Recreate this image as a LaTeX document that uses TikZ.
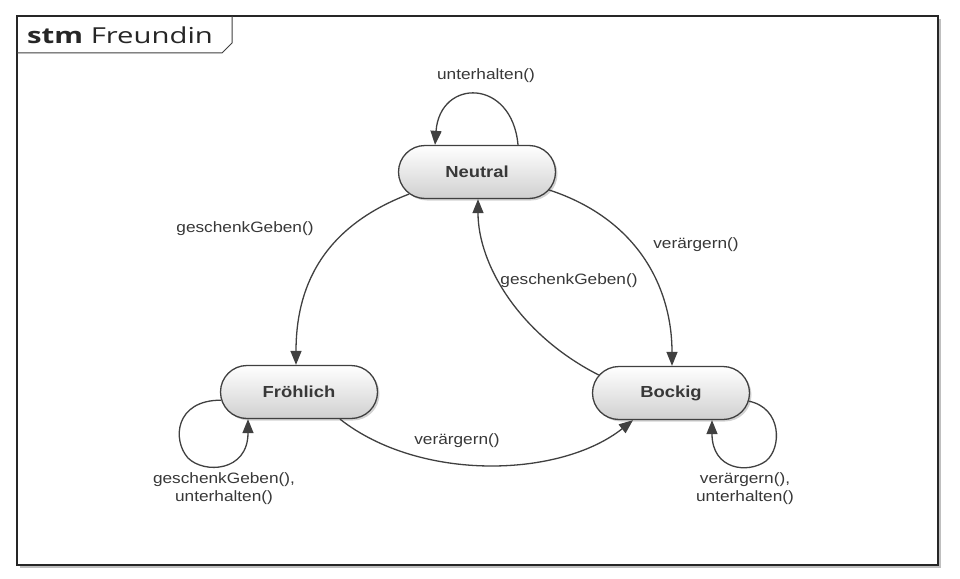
\documentclass[tikz,border=0pt]{standalone}
\usepackage{fontspec}
\setmainfont{Liberation Sans}
\newfontfamily\lblfont[FakeStretch=1.15]{Liberation Sans}
\newfontfamily\titlefont[FakeStretch=1.33]{Open Sans}
\usetikzlibrary{shapes.misc,shadows,arrows.meta,calc}
\definecolor{inkgray}{HTML}{404040}
\definecolor{txtgray}{HTML}{383838}
\definecolor{statefill}{HTML}{D0D0D0}
\tikzset{
  state/.style={rounded rectangle, draw=inkgray, line width=1.3pt,
    minimum width=157pt, minimum height=53pt, inner sep=0pt,
    top color=white, bottom color=statefill,
    drop shadow={shadow xshift=2pt, shadow yshift=-2pt, opacity=0.35},
    text=txtgray, font=\lblfont\bfseries\fontsize{16}{19}\selectfont},
  trans/.style={draw=inkgray, line width=1.3pt,
    -{Triangle[length=14pt,width=11pt]}},
  lbl/.style={text=txtgray, font=\lblfont\fontsize{15}{18}\selectfont,
    align=center, inner sep=0pt}
}
\begin{document}
\begin{tikzpicture}[x=1pt,y=-1pt]
\useasboundingbox (0,0) rectangle (960,578);
\fill[white] (0,0) rectangle (960,578);

% diagram frame with its name tab
\fill[black!25] (20,19) rectangle (941,568);
\draw[black!85, line width=2pt, fill=white] (17,16) rectangle (938,565);
\draw[black!75, line width=1pt] (17,53) -- (222,53) -- (232,43) -- (232,16);
\node[anchor=west, inner sep=0pt, text=black!85,
  font=\titlefont\fontsize{22}{26}\selectfont] (title) at (27,35)
  {\textbf{stm} Freundin};

% states
\node[state] (neutral) at (477,172) {Neutral};
\node[state] (froh) at (299,392) {Fröhlich};
\node[state] (bockig) at (671,393) {Bockig};

% transitions
\draw[trans] ([xshift=41pt]neutral.north) .. controls (512,78) and (440,78) .. ([xshift=-42pt]neutral.north);
\draw[trans] (neutral.198) .. controls (320,228) and (296,290) .. ([xshift=-3pt]froh.north);
\draw[trans] (neutral.-14) .. controls (640,220) and (672,290) .. ([xshift=1pt]bockig.north);
\draw[trans] (bockig.166) .. controls (520,335) and (478,265) .. ([xshift=1pt]neutral.south);
\draw[trans] ([xshift=41pt]froh.south) .. controls (420,482) and (560,478) .. ([xshift=-38pt]bockig.south);
\draw[trans] (froh.186) .. controls (175,400) and (172,440) .. (188,458)
  .. controls (204,474) and (248,472) .. ([xshift=-51pt]froh.south);
\draw[trans] (bockig.-6) .. controls (782,408) and (782,448) .. (766,461)
  .. controls (748,474) and (712,470) .. ([xshift=41pt]bockig.south);

% transition labels
\node[lbl] (l1) at (486,76) {unterhalten()};
\node[lbl] (l2) at (245,229) {geschenkGeben()};
\node[lbl] (l3) at (696,245) {verärgern()};
\node[lbl] (l4) at (569,281) {geschenkGeben()};
\node[lbl] (l5) at (457,441) {verärgern()};
\node[lbl] (l6) at (224,489) {geschenkGeben(),\\unterhalten()};
\node[lbl] (l7) at (745,489) {verärgern(),\\unterhalten()};
\end{tikzpicture}
\end{document}
